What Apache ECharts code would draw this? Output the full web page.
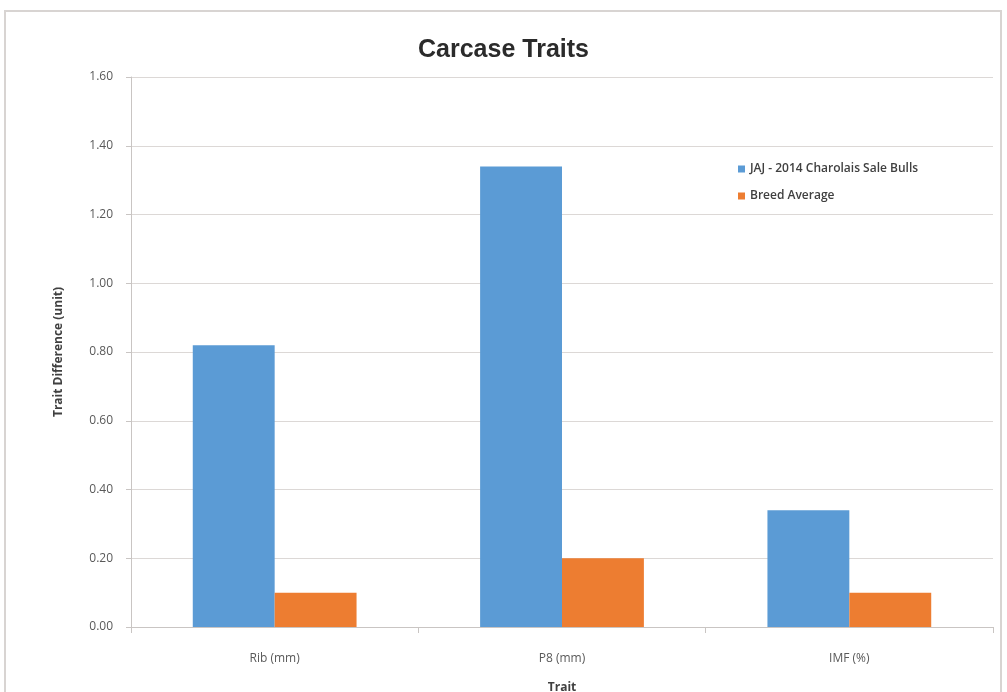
<!DOCTYPE html>
<html><head><meta charset="utf-8">
<script src="https://cdn.jsdelivr.net/npm/echarts@6/dist/echarts.min.js"></script>
<style>html,body{margin:0;padding:0;background:#fff}#c{width:1007px;height:692px}</style>
</head><body><div id="c"></div>
<script>
const categories = ['Rib (mm)', 'P8 (mm)', 'IMF (%)'];
const jajValues = [0.82, 1.34, 0.34];
const breedAvgValues = [0.10, 0.20, 0.10];
const seriesNames = ['JAJ - 2014 Charolais Sale Bulls', 'Breed Average'];

const chart = echarts.init(document.getElementById('c'));
chart.setOption({
  backgroundColor: '#fff',
  animation: false,
  graphic: [{type:'rect', shape:{x:5,y:11,width:996,height:690}, style:{fill:'none', stroke:'#d8d4d2', lineWidth:2}}],
  title: {text:'Carcase Traits', left:'center', top:33, textStyle:{fontFamily:'Liberation Sans', fontSize:25, fontWeight:'bold', color:'#2b2b2b'}},
  legend: {orient:'vertical', left:733, top:158, itemGap:15, itemWidth:7, itemHeight:7, icon:'rect',
    textStyle:{fontFamily:'Open Sans', fontSize:12, fontWeight:600, color:'#404040'},
    data: seriesNames},
  grid: {left:131, right:14, top:77, bottom:65, containLabel:false, outerBoundsMode:'none'},
  xAxis: {type:'category', data:categories, name:'Trait', nameLocation:'middle', nameGap:55,
    nameTextStyle:{fontFamily:'Open Sans', fontWeight:'bold', fontSize:12, color:'#404040'},
    axisLine:{lineStyle:{color:'#c9c5c3'}}, axisTick:{show:true, length:6, lineStyle:{color:'#c9c5c3'}},
    axisLabel:{margin:26, fontFamily:'Open Sans', fontSize:12, color:'#595959'}},
  yAxis: {type:'value', min:0, max:1.6, interval:0.2, name:'Trait Difference (unit)', nameLocation:'middle', nameGap:66,
    nameTextStyle:{fontFamily:'Open Sans', fontWeight:'bold', fontSize:12, color:'#404040'},
    axisLine:{show:true, lineStyle:{color:'#c9c5c3'}}, axisTick:{show:true, length:5, lineStyle:{color:'#c9c5c3'}},
    splitLine:{lineStyle:{color:'#dcd8d6'}},
    axisLabel:{margin:18, fontFamily:'Open Sans', fontSize:12, color:'#595959', formatter:v=>v.toFixed(2)}},
  series: [
    {name:seriesNames[0], type:'bar', data:jajValues, itemStyle:{color:'#5B9BD5'}, barGap:'0%', barCategoryGap:'43%'},
    {name:seriesNames[1], type:'bar', data:breedAvgValues, itemStyle:{color:'#ED7D31'}, barGap:'0%', barCategoryGap:'43%'}
  ]
});
</script></body></html>
